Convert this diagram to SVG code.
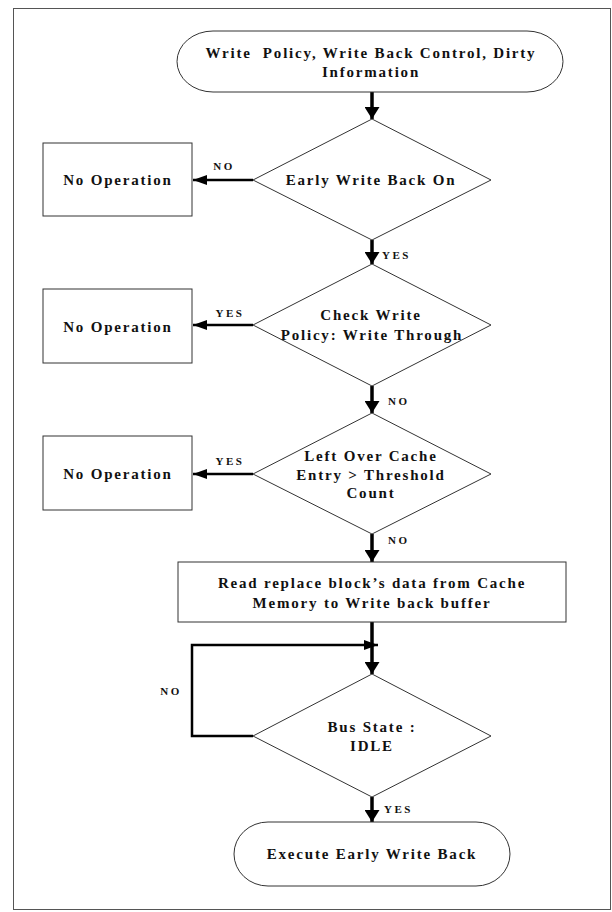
<svg xmlns="http://www.w3.org/2000/svg" width="612" height="912" viewBox="0 0 612 912">
<style>
.t{font-family:"Liberation Serif","Times New Roman",serif;font-weight:bold;font-size:15px;letter-spacing:1.8px;text-anchor:middle;fill:#111}
.l{font-family:"Liberation Serif","Times New Roman",serif;font-weight:bold;font-size:11px;letter-spacing:2.5px;fill:#111}
.s{fill:#fff;stroke:#333;stroke-width:1}
.c{stroke:#000;stroke-width:3.5;fill:none}
.h{stroke:#000;stroke-width:2.5;fill:none}
</style>
<defs>
<marker id="av" viewBox="0 0 12 15" refX="12" refY="7.5" markerWidth="12" markerHeight="15" orient="auto" markerUnits="userSpaceOnUse"><path d="M0,0 L12,7.5 L0,15 z" fill="#000"/></marker>
<marker id="ah" viewBox="0 0 14 10" refX="14" refY="5" markerWidth="14" markerHeight="10" orient="auto" markerUnits="userSpaceOnUse"><path d="M0,0 L14,5 L0,10 z" fill="#000"/></marker>
</defs>
<rect x="13.5" y="8.5" width="597" height="901" fill="#fff" stroke="#555" stroke-width="1"/>

<g id="connectors">
<line class="c" x1="372" y1="92" x2="372" y2="119" marker-end="url(#av)"/>
<line class="c" x1="372" y1="240" x2="372" y2="264" marker-end="url(#av)"/>
<line class="c" x1="372" y1="386" x2="372" y2="413" marker-end="url(#av)"/>
<line class="c" x1="372" y1="534" x2="372" y2="562" marker-end="url(#av)"/>
<line class="c" x1="372" y1="622" x2="372" y2="674" marker-end="url(#av)"/>
<line class="c" x1="372" y1="797" x2="372" y2="822" marker-end="url(#av)"/>
<line class="h" x1="253" y1="180" x2="193" y2="180" marker-end="url(#ah)"/>
<line class="h" x1="253" y1="325" x2="193" y2="325" marker-end="url(#ah)"/>
<line class="h" x1="253" y1="474" x2="193" y2="474" marker-end="url(#ah)"/>
<path class="h" d="M253,736 H192 V645 H378" marker-end="url(#ah)"/>
<text class="l" x="224" y="170" text-anchor="middle">NO</text>
<text class="l" x="382" y="259">YES</text>
<text class="l" x="230" y="317" text-anchor="middle">YES</text>
<text class="l" x="388" y="405">NO</text>
<text class="l" x="230" y="465" text-anchor="middle">YES</text>
<text class="l" x="388" y="544">NO</text>
<text class="l" x="171" y="695" text-anchor="middle">NO</text>
<text class="l" x="384" y="813">YES</text>
</g>

<g id="start">
<rect class="s" x="177" y="31" width="386" height="61" rx="36" ry="30.5"/>
<text class="t" x="371" y="58" xml:space="preserve">Write  Policy, Write Back Control, Dirty</text>
<text class="t" x="371" y="77">Information</text>
</g>

<g id="d1">
<polygon class="s" points="372,119 491,180 372,240 253,180"/>
<text class="t" x="371" y="185">Early Write Back On</text>
</g>
<g id="nop1">
<rect class="s" x="43" y="143" width="149" height="73"/>
<text class="t" x="118" y="185">No Operation</text>
</g>

<g id="d2">
<polygon class="s" points="372,264 491,325 372,386 253,325"/>
<text class="t" x="371" y="320">Check Write</text>
<text class="t" x="372" y="340">Policy: Write Through</text>
</g>
<g id="nop2">
<rect class="s" x="43" y="289" width="149" height="74"/>
<text class="t" x="118" y="332">No Operation</text>
</g>

<g id="d3">
<polygon class="s" points="372,413 491,474 372,534 253,474"/>
<text class="t" x="371" y="461">Left Over Cache</text>
<text class="t" x="371" y="480">Entry &gt; Threshold</text>
<text class="t" x="371" y="498">Count</text>
</g>
<g id="nop3">
<rect class="s" x="43" y="436" width="149" height="74"/>
<text class="t" x="118" y="479">No Operation</text>
</g>

<g id="read">
<rect class="s" x="178" y="562" width="388" height="60"/>
<text class="t" x="372" y="588">Read replace block’s data from Cache</text>
<text class="t" x="372" y="608">Memory to Write back buffer</text>
</g>

<g id="d4">
<polygon class="s" points="372,674 491,736 372,797 253,736"/>
<text class="t" x="372" y="732">Bus State :</text>
<text class="t" x="372" y="751">IDLE</text>
</g>

<g id="end">
<rect class="s" x="234" y="822" width="276" height="64" rx="34" ry="32"/>
<text class="t" x="372" y="859">Execute Early Write Back</text>
</g>
</svg>
